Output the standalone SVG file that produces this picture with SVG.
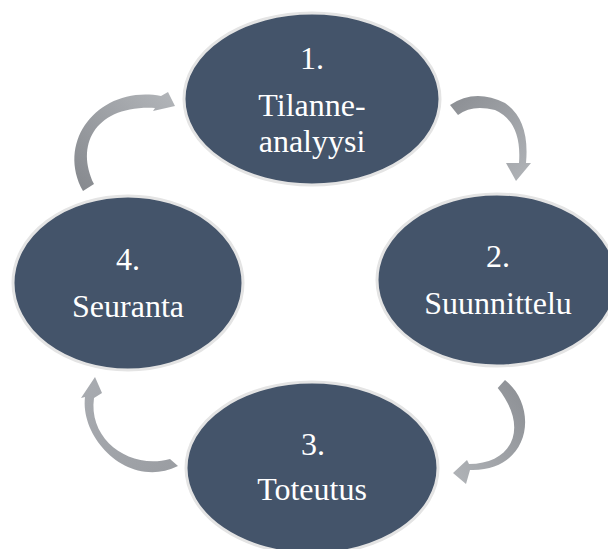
<svg xmlns="http://www.w3.org/2000/svg" width="608" height="549" viewBox="0 0 608 549">
<defs>
<style>
.node{fill:#44546a;stroke:#e4e4e4;stroke-width:3}
.lbl{font-family:"Liberation Serif","Times New Roman",serif;font-size:32px;fill:#ffffff;text-anchor:middle}
</style>
<linearGradient id="g1" x1="0" y1="0" x2="1" y2="1"><stop offset="0" stop-color="#8b8e93"/><stop offset="1" stop-color="#b1b4b8"/></linearGradient>
<linearGradient id="g2" x1="1" y1="0" x2="0" y2="1"><stop offset="0" stop-color="#8b8e93"/><stop offset="1" stop-color="#b1b4b8"/></linearGradient>
<linearGradient id="g3" x1="1" y1="1" x2="0" y2="0"><stop offset="0" stop-color="#9a9da2"/><stop offset="1" stop-color="#a9acb1"/></linearGradient>
<linearGradient id="g4" x1="0" y1="1" x2="1" y2="0"><stop offset="0" stop-color="#85888d"/><stop offset="1" stop-color="#b3b6ba"/></linearGradient>
</defs>
<rect width="608" height="549" fill="#ffffff"/>
<g id="connectors">
<path fill="url(#g1)" d="M450,105 Q475,88 505,103 Q530,120 526,163 L531,163 L516,181 L506,163 L519,163 Q522,122 495,110 Q472,104 458,115 Z"/>
<path fill="url(#g2)" d="M505,380 C540,408 530,472 470,470 L466,484 L453,473 L467,460 L469,464 C512,464 530,428 497.7,388 Z"/>
<path fill="url(#g3)" d="M178,466 C130,490 80,440 85,397 L81,398 L95,377 L102,393 L94,398 C88,440 130,470 170,459 Z"/>
<path fill="url(#g4)" d="M83,191 L94,184 C75,145 95,105 155,108 L153,111 L175,106 L168,92 L161,96 C100,85 55,140 83,191 Z"/>
</g>
<g id="node1">
<ellipse class="node" cx="312" cy="99" rx="128" ry="86"/>
<text class="lbl" x="312" y="69">1.</text>
<text class="lbl" x="312" y="116">Tilanne-</text>
<text class="lbl" x="312" y="152">analyysi</text>
</g>
<g id="node2">
<ellipse class="node" cx="497" cy="280" rx="120" ry="86"/>
<text class="lbl" x="498" y="267">2.</text>
<text class="lbl" x="498" y="314">Suunnittelu</text>
</g>
<g id="node3">
<ellipse class="node" cx="312" cy="468" rx="126" ry="86"/>
<text class="lbl" x="313" y="455">3.</text>
<text class="lbl" x="312" y="500">Toteutus</text>
</g>
<g id="node4">
<ellipse class="node" cx="128" cy="283" rx="115" ry="87"/>
<text class="lbl" x="128" y="270">4.</text>
<text class="lbl" x="128" y="317">Seuranta</text>
</g>
</svg>
